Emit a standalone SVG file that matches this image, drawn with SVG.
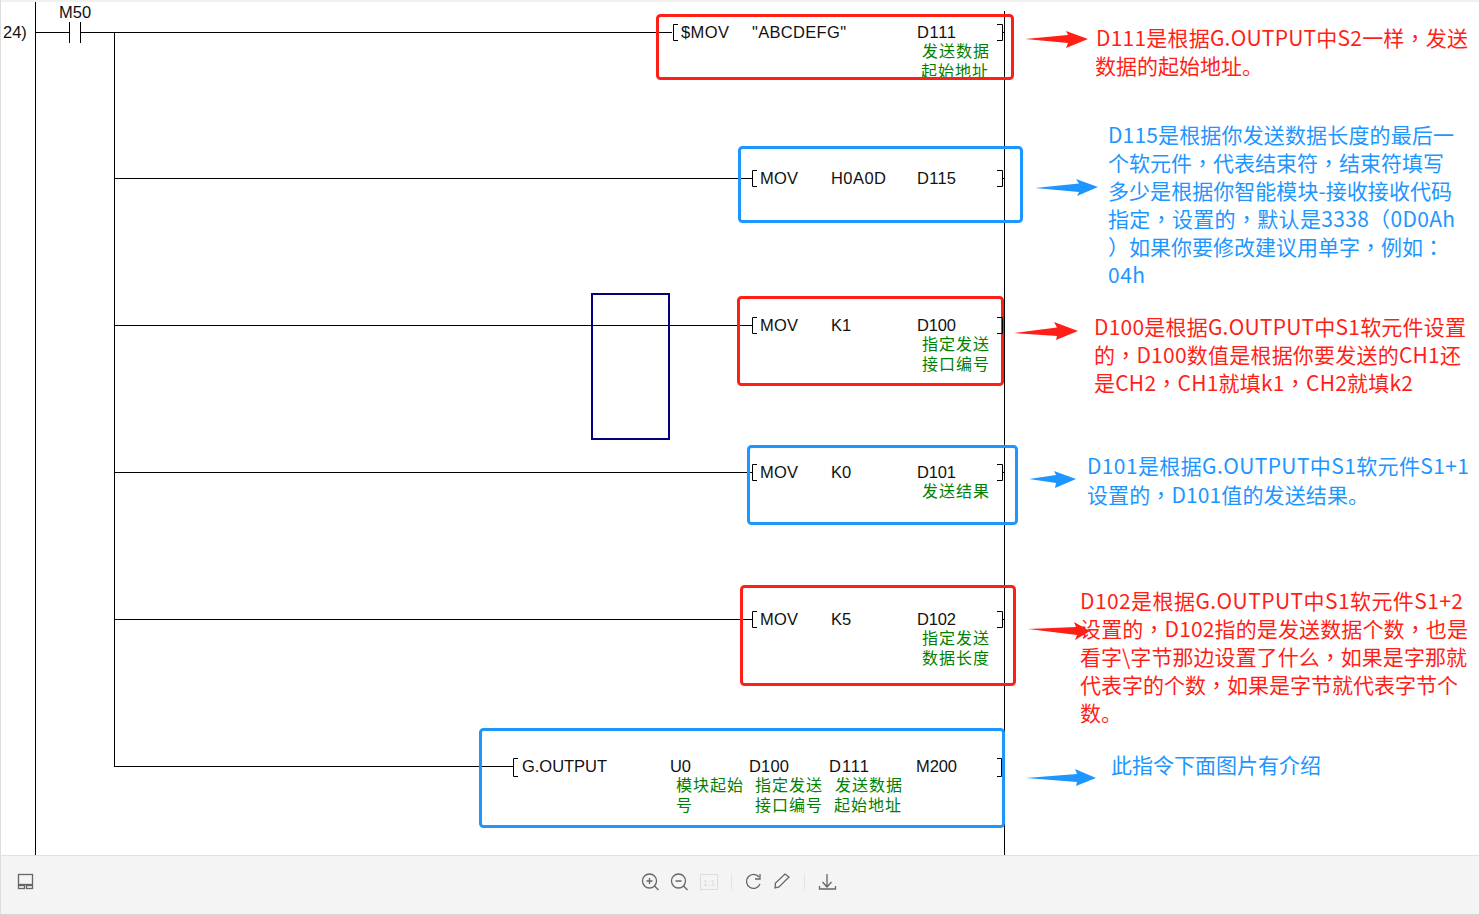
<svg xmlns="http://www.w3.org/2000/svg" width="1479" height="915" viewBox="0 0 1479 915">
<style>
.l{fill:none;stroke:#000;stroke-width:1}
.t{font:16.500px "Liberation Sans","Noto Sans CJK SC",sans-serif;fill:#111}
.g{font:16px "Noto Sans CJK SC",sans-serif;fill:#008000;letter-spacing:1px}
.r{fill:none;stroke:#ff1f17;stroke-width:3}
.b{fill:none;stroke:#1e96ff;stroke-width:3}
.ar{font:21px "Noto Sans CJK SC",sans-serif;fill:#ff1f17}
.ab{font:21px "Noto Sans CJK SC",sans-serif;fill:#1e96ff}
.p{font-family:"Noto Sans CJK TC",sans-serif}
.af{fill:#ff1f17}.bf{fill:#1e96ff}
.i{fill:none;stroke:#666;stroke-width:1.3}
</style>
<rect width="1479" height="915" fill="#fff"/>
<rect x="0" y="0" width="1479" height="2" fill="#f0f0f0"/>
<rect x="0" y="0" width="1" height="915" fill="#ddd"/>
<g id="connectors">
<path class="l" d="M35.500 2V855M1004.500 11V855M35 32.500H69M81 32.500H672M69.500 22V43M80.500 22V43M114.500 32V767"/>
<path class="l" d="M114 178.500H753M114 325.500H753M114 472.500H753M114 619.500H753M114 766.500H514"/>
<path class="l" d="M1002 32.500H1004M1002 178.500H1004M1002 325.500H1004M1002 472.500H1004M1002 619.500H1004M1002 766.500H1004"/>
</g>
<g id="rung-label"><text class="t" x="3" y="38">24)</text><text class="t" x="59" y="18">M50</text></g>
<g id="node-smov">
<path class="l" d="M678 24.500H673.500V40.500H678M997 24.500H1002.500V40.500H997"/>
<text class="t" x="681" y="38" textLength="48">$MOV</text><text class="t" x="752" y="38" textLength="94">"ABCDEFG"</text><text class="t" x="917" y="38" textLength="39">D111</text>
<text class="g" x="922" y="57">发送数据</text><text class="g" x="921" y="77">起始地址</text>
<rect class="r" x="657.500" y="15.500" width="355" height="63" rx="3"/>
</g>
<g id="node-d115">
<path class="l" d="M757 170.500H752.500V186.500H757M997 170.500H1002.500V186.500H997"/>
<text class="t" x="760" y="184" textLength="38">MOV</text><text class="t" x="831" y="184" textLength="55">H0A0D</text><text class="t" x="917" y="184" textLength="39">D115</text>
<rect class="b" x="739.500" y="147.500" width="282" height="74" rx="3"/>
</g>
<g id="node-d100">
<text class="t" x="760" y="331" textLength="38">MOV</text><text class="t" x="831" y="331">K1</text><text class="t" x="917" y="331" textLength="39">D100</text>
<text class="g" x="922" y="350">指定发送</text><text class="g" x="922" y="370">接口编号</text>
<rect class="r" x="738.500" y="297.500" width="264" height="87" rx="3"/>
<path class="l" d="M757 317.500H752.500V333.500H757M997 317.500H1002.500V333.500H997"/>
</g>
<g id="node-d101">
<path class="l" d="M757 464.500H752.500V480.500H757M997 464.500H1002.500V480.500H997"/>
<text class="t" x="760" y="478" textLength="38">MOV</text><text class="t" x="831" y="478">K0</text><text class="t" x="917" y="478" textLength="39">D101</text>
<text class="g" x="922" y="497">发送结果</text>
<rect class="b" x="748.500" y="446.500" width="268" height="77" rx="3"/>
</g>
<g id="node-d102">
<path class="l" d="M757 611.500H752.500V627.500H757M997 611.500H1002.500V627.500H997"/>
<text class="t" x="760" y="625" textLength="38">MOV</text><text class="t" x="831" y="625">K5</text><text class="t" x="917" y="625" textLength="39">D102</text>
<text class="g" x="922" y="644">指定发送</text><text class="g" x="922" y="664">数据长度</text>
<rect class="r" x="741.500" y="586.500" width="273" height="98" rx="3"/>
</g>
<g id="node-output">
<text class="t" x="522" y="772" textLength="85">G.OUTPUT</text><text class="t" x="670" y="772" textLength="21">U0</text><text class="t" x="749" y="772" textLength="40">D100</text><text class="t" x="829" y="772" textLength="40">D111</text><text class="t" x="916" y="772" textLength="41">M200</text>
<text class="g" x="676" y="791">模块起始</text><text class="g" x="676" y="811">号</text>
<text class="g" x="755" y="791">指定发送</text><text class="g" x="755" y="811">接口编号</text>
<text class="g" x="835" y="791">发送数据</text><text class="g" x="834" y="811">起始地址</text>
<rect class="b" x="480.500" y="729.500" width="523" height="97" rx="3"/>
<path class="l" d="M518 758.500H513.500V776.500H518M997 758.500H1001.500V776.500H997"/>
</g>
<g id="node-blue-rect"><rect x="592" y="294" width="77" height="145" fill="none" stroke="#000080" stroke-width="2"/></g>
<g id="arrows">
<path class="af" d="M1025 39L1068 35L1066 31L1088 39L1066 48L1068 43Z"/>
<path class="bf" d="M1035 188L1079 183.500L1076 179L1098 187L1077 196L1079 192Z"/>
<path class="af" d="M1014 333L1057 327.500L1054 322L1078 331L1056 340L1057 336Z"/>
<path class="bf" d="M1029 479L1056 475L1054 471L1076 479L1055 488L1056 483Z"/>
<path class="af" d="M1028 629L1076 627L1074 622L1090 631L1075 640L1077 635Z"/>
<path class="bf" d="M1026 778L1077 774L1075 769L1096 778L1076 786L1077 782Z"/>
</g>
<g id="note-d111"><text class="ar" x="1096" y="46" textLength="372">D111是根据G.OUTPUT中S2一样<tspan class="p">，</tspan>发送</text><text class="ar" x="1095" y="74">数据的起始地址。</text></g>
<g id="note-d115">
<text class="ab" x="1108" y="143" textLength="346">D115是根据你发送数据长度的最后一</text>
<text class="ab" x="1108" y="171" textLength="336">个软元件<tspan class="p">，</tspan>代表结束符<tspan class="p">，</tspan>结束符填写</text>
<text class="ab" x="1108" y="199" textLength="344">多少是根据你智能模块-接收接收代码</text>
<text class="ab" x="1108" y="227" textLength="347">指定<tspan class="p">，</tspan>设置的<tspan class="p">，</tspan>默认是3338<tspan class="p">（</tspan>0D0Ah</text>
<text class="ab" x="1108" y="255"><tspan class="p">）</tspan>如果你要修改建议用单字<tspan class="p">，</tspan>例如<tspan class="p">：</tspan></text>
<text class="ab" x="1108" y="283" textLength="37">04h</text>
</g>
<g id="note-d100">
<text class="ar" x="1094" y="335" textLength="372">D100是根据G.OUTPUT中S1软元件设置</text>
<text class="ar" x="1094" y="363" textLength="367">的<tspan class="p">，</tspan>D100数值是根据你要发送的CH1还</text>
<text class="ar" x="1094" y="391" textLength="319">是CH2<tspan class="p">，</tspan>CH1就填k1<tspan class="p">，</tspan>CH2就填k2</text>
</g>
<g id="note-d101">
<text class="ab" x="1087" y="474" textLength="382">D101是根据G.OUTPUT中S1软元件S1+1</text>
<text class="ab" x="1087" y="503" textLength="282">设置的<tspan class="p">，</tspan>D101值的发送结果。</text>
</g>
<g id="note-d102">
<text class="ar" x="1080" y="609" textLength="383">D102是根据G.OUTPUT中S1软元件S1+2</text>
<text class="ar" x="1080" y="637" textLength="388">设置的<tspan class="p">，</tspan>D102指的是发送数据个数<tspan class="p">，</tspan>也是</text>
<text class="ar" x="1080" y="665" textLength="387">看字\字节那边设置了什么<tspan class="p">，</tspan>如果是字那就</text>
<text class="ar" x="1080" y="693" textLength="378">代表字的个数<tspan class="p">，</tspan>如果是字节就代表字节个</text>
<text class="ar" x="1080" y="721">数。</text>
</g>
<g id="note-output"><text class="ab" x="1111" y="773">此指令下面图片有介绍</text></g>
<g id="toolbar">
<rect x="1" y="855" width="1478" height="60" fill="#f4f4f4"/>
<path d="M0 855.500H1479" stroke="#e2e2e2" stroke-width="1"/>
<path d="M0 914.500H1479" stroke="#d6d6d6" stroke-width="1"/>
<rect class="i" x="18.500" y="874.500" width="14" height="10"/><rect class="i" x="18.500" y="885.500" width="6" height="3"/><rect class="i" x="26.500" y="885.500" width="6" height="3"/>
<circle class="i" cx="649.500" cy="881" r="7"/><path class="i" d="M654.500 886L658.500 890M646.500 881H652.500M649.500 878V884"/>
<circle class="i" cx="678.500" cy="881" r="7"/><path class="i" d="M683.500 886L687.500 890M675.500 881H681.500"/>
<rect x="700.500" y="874.500" width="17" height="15" fill="none" stroke="#ddd"/>
<text x="709" y="886" font-family="Liberation Sans,sans-serif" font-size="9" fill="#ddd" text-anchor="middle">1:1</text>
<path d="M731.500 874V890M804.500 874V890" stroke="#e4e4e4"/>
<path class="i" d="M759 877A7 7 0 1 0 760 884M760 874V879H755"/>
<path class="i" d="M775 888L775.500 883L785 874L789 877L779 887Z"/>
<path class="i" d="M827 874V887M822.500 882L827 887L831.500 882M819.500 886V889H835.500V886"/>
</g>
</svg>
